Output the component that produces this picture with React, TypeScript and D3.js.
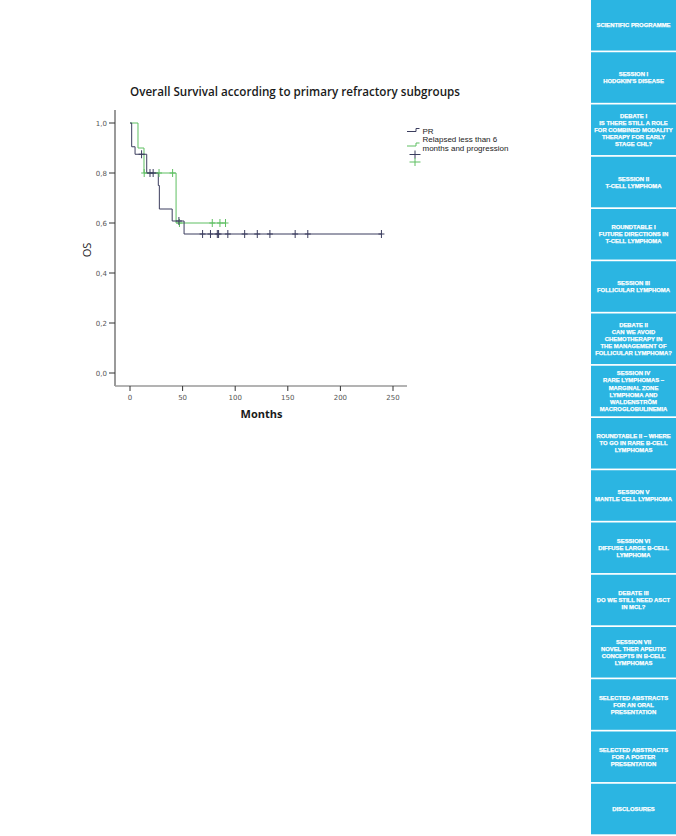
import React from "react";
import * as d3 from "d3";

const TITLE = "Overall Survival according to primary refractory subgroups";
const yTicks = [0, 0.2, 0.4, 0.6, 0.8, 1.0];
const xTicks = [0, 50, 100, 150, 200, 250];

// PR group: step times (months) and survival after each step
const prTimes = [0, 1.6, 4.8, 15.9, 26.9, 27.9, 40.1, 51.4];
const prSurv = [1.0, 0.905, 0.875, 0.8, 0.75, 0.656, 0.608, 0.556];
const prEnd = 239;
const prCensorT = [11, 19, 22, 46.5, 69, 76.5, 83, 84.2, 93, 109, 121, 133, 157, 169, 239];

// Relapsed < 6 months and progression
const grTimes = [0, 7.6, 13.3, 43.8];
const grSurv = [1.0, 0.9, 0.8, 0.6];
const grEnd = 91;
const grCensorT = [13.5, 27.6, 40.5, 47, 78.2, 85.5, 90.8];

const legendLabels = ["PR", "Relapsed less than 6", "months and progression"];

const sidebar: string[][] = [
  ["SCIENTIFIC PROGRAMME"],
  ["SESSION I", "HODGKIN'S DISEASE"],
  ["DEBATE I", "IS THERE STILL A ROLE", "FOR COMBINED MODALITY", "THERAPY FOR EARLY", "STAGE CHL?"],
  ["SESSION II", "T-CELL LYMPHOMA"],
  ["ROUNDTABLE I", "FUTURE DIRECTIONS IN", "T-CELL LYMPHOMA"],
  ["SESSION III", "FOLLICULAR LYMPHOMA"],
  ["DEBATE II", "CAN WE AVOID", "CHEMOTHERAPY IN", "THE MANAGEMENT OF", "FOLLICULAR LYMPHOMA?"],
  ["SESSION IV", "RARE LYMPHOMAS –", "MARGINAL ZONE", "LYMPHOMA AND", "WALDENSTRÖM", "MACROGLOBULINEMIA"],
  ["ROUNDTABLE II –  WHERE", "TO GO IN RARE B-CELL", "LYMPHOMAS"],
  ["SESSION V", "MANTLE CELL LYMPHOMA"],
  ["SESSION VI", "DIFFUSE LARGE B-CELL", "LYMPHOMA"],
  ["DEBATE III", "DO WE STILL NEED ASCT", "IN MCL?"],
  ["SESSION VII", "NOVEL THER APEUTIC", "CONCEPTS IN B-CELL", "LYMPHOMAS"],
  ["SELECTED ABSTRACTS", "FOR AN ORAL", "PRESENTATION"],
  ["SELECTED ABSTRACTS", "FOR A POSTER", "PRESENTATION"],
  ["DISCLOSURES"],
];

const DARK = "#3b3d5e";
const GREEN = "#5fbf62";
const BLUE = "#2bb5e2";

function stepPath(times: number[], surv: number[], end: number, x: d3.ScaleLinear<number, number>, y: d3.ScaleLinear<number, number>) {
  const pts: [number, number][] = times.map((t, i) => [t, surv[i]]);
  pts.push([end, surv[surv.length - 1]]);
  const line = d3.line<[number, number]>().x(d => x(d[0])).y(d => y(d[1])).curve(d3.curveStepAfter);
  return line(pts) || "";
}

function survAt(times: number[], surv: number[], t: number) {
  let s = surv[0];
  for (let i = 0; i < times.length; i++) if (times[i] <= t) s = surv[i];
  return s;
}

export default function App() {
  const x = d3.scaleLinear().domain([0, 250]).range([130, 393]);
  const y = d3.scaleLinear().domain([0, 1]).range([373, 123]);
  const axisX = 115;
  const axisY = 386;
  const fmt = (v: number) => v.toFixed(1).replace(".", ",");

  const panelH = 836 / sidebar.length;

  return (
    <svg width={676} height={836} style={{ position: "absolute", left: 0, top: 0, background: "#fff" }}>
      <rect x={0} y={0} width={676} height={836} fill="#fff" />
      {/* title */}
      <text x={130} y={96} fontFamily="'Open Sans', 'DejaVu Sans', sans-serif" fontWeight={600} fontSize={13}
        fill="#1a1a1a" textLength={330} lengthAdjust="spacingAndGlyphs">{TITLE}</text>

      {/* axes */}
      <line x1={axisX} x2={axisX} y1={110} y2={axisY} stroke="#9a9a9a" strokeWidth={2} />
      <line x1={axisX} x2={407} y1={axisY} y2={axisY} stroke="#9a9a9a" strokeWidth={1.5} />
      {yTicks.map(v => (
        <g key={"y" + v}>
          <line x1={axisX - 6} x2={axisX} y1={y(v)} y2={y(v)} stroke="#333" strokeWidth={1} />
          <text x={axisX - 8} y={y(v) + 2.5} textAnchor="end" fontFamily="'DejaVu Sans', sans-serif" fontSize={7} fill="#555">{fmt(v)}</text>
        </g>
      ))}
      {xTicks.map(v => (
        <g key={"x" + v}>
          <line x1={x(v)} x2={x(v)} y1={axisY} y2={axisY + 5} stroke="#333" strokeWidth={1} />
          <text x={x(v)} y={axisY + 14} textAnchor="middle" fontFamily="'DejaVu Sans', sans-serif" fontSize={7} fill="#555">{v}</text>
        </g>
      ))}
      <text x={261.5} y={418} textAnchor="middle" fontFamily="'Open Sans', 'DejaVu Sans', sans-serif" fontWeight={700} fontSize={11} fill="#1a1a1a">Months</text>
      <text transform={`translate(91,250) rotate(-90)`} textAnchor="middle" fontFamily="'Open Sans', 'DejaVu Sans', sans-serif" fontSize={11} fill="#1a1a1a">OS</text>

      {/* curves */}
      <path d={stepPath(grTimes, grSurv, grEnd, x, y)} fill="none" stroke={GREEN} strokeWidth={1} />
      <path d={stepPath(prTimes, prSurv, prEnd, x, y)} fill="none" stroke={DARK} strokeWidth={1} />
      {grCensorT.map((t, i) => {
        const cx = x(t), cy = y(survAt(grTimes, grSurv, t));
        return <g key={"gc" + i} stroke={GREEN} strokeWidth={1}>
          <line x1={cx} x2={cx} y1={cy - 4} y2={cy + 4} />
          <line x1={cx - 3} x2={cx + 3} y1={cy} y2={cy} />
        </g>;
      })}
      {prCensorT.map((t, i) => {
        const cx = x(t), cy = y(survAt(prTimes, prSurv, t));
        return <g key={"pc" + i} stroke={DARK} strokeWidth={1}>
          <line x1={cx} x2={cx} y1={cy - 4} y2={cy + 4} />
          <line x1={cx - 3} x2={cx + 3} y1={cy} y2={cy} />
        </g>;
      })}

      {/* legend */}
      <path d="M407,131.5 H416 V128.5 H419.5" fill="none" stroke={DARK} strokeWidth={1} />
      <text x={422.5} y={134} fontFamily="'Liberation Sans', Arial, sans-serif" fontSize={8} fill="#222">{legendLabels[0]}</text>
      <path d="M407,146 H416 V143 H419.5" fill="none" stroke={GREEN} strokeWidth={1} />
      <text x={422.5} y={142} fontFamily="'Liberation Sans', Arial, sans-serif" fontSize={8} fill="#222">{legendLabels[1]}</text>
      <text x={422.5} y={151} fontFamily="'Liberation Sans', Arial, sans-serif" fontSize={8} fill="#222">{legendLabels[2]}</text>
      <g stroke={DARK} strokeWidth={1}>
        <line x1={409.5} x2={420.5} y1={154.5} y2={154.5} />
        <line x1={415} x2={415} y1={150.5} y2={158.5} />
      </g>
      <g stroke={GREEN} strokeWidth={1}>
        <line x1={409.5} x2={420.5} y1={162} y2={162} />
        <line x1={415} x2={415} y1={158} y2={166} />
      </g>

      {/* sidebar */}
      {sidebar.map((lines, i) => {
        const top = i * panelH;
        const cy = top + (panelH - 1.7) / 2;
        const lh = 7.1;
        const start = cy - ((lines.length - 1) * lh) / 2;
        return (
          <g key={"sb" + i}>
            <rect x={591} y={top} width={85} height={panelH - 1.7} fill={BLUE} />
            {lines.map((l, j) => (
              <text key={j} x={633.5} y={start + j * lh + 2.1} textAnchor="middle" fontFamily="'Liberation Sans', Arial, sans-serif"
                fontWeight={700} fontSize={5.9} fill="#fff" stroke="#fff" strokeWidth={0.25}>{l}</text>
            ))}
          </g>
        );
      })}
    </svg>
  );
}
